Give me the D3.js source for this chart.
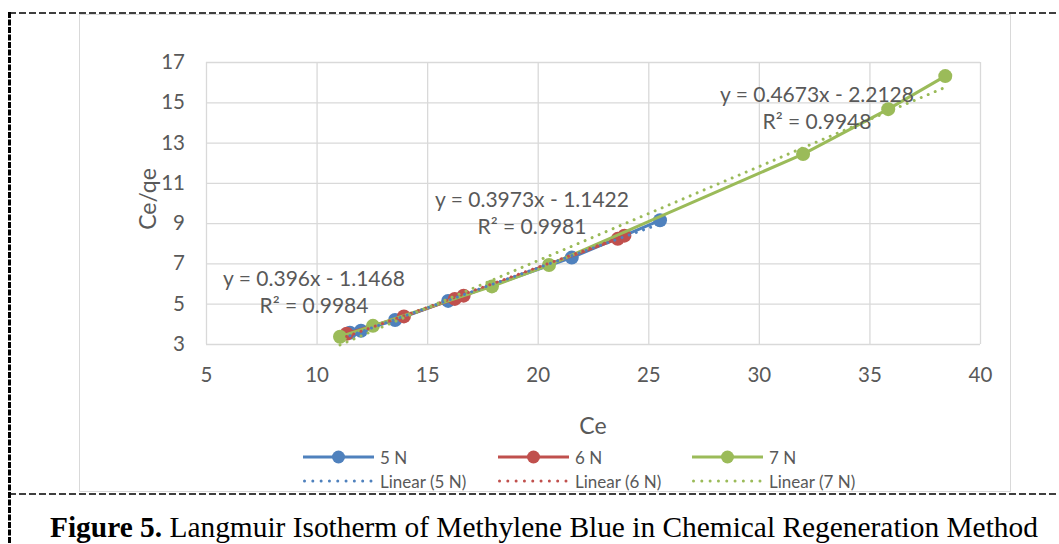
<!DOCTYPE html>
<html>
<head>
<meta charset="utf-8">
<script src="https://cdn.jsdelivr.net/npm/d3@7"></script>
<style>
  html, body { margin: 0; padding: 0; background: #ffffff; }
  svg { display: block; }
  text { font-family: Lato, "Open Sans", sans-serif; fill: #595959; }
</style>
</head>
<body>
<svg id="chart" width="1059" height="544"></svg>
<script>
// Langmuir isotherm data: Ce (mg/L) against Ce/qe, for three regenerant strengths
const seriesNames = ["5 N", "6 N", "7 N"];
const ce5 = [11.51, 12.01, 13.55, 15.95, 21.54, 25.53];
const ceqe5 = [3.56, 3.66, 4.19, 5.14, 7.29, 9.14];
const ce6 = [11.36, 13.95, 16.25, 16.65, 23.62, 23.92];
const ceqe6 = [3.51, 4.37, 5.24, 5.40, 8.22, 8.38];
const ce7 = [11.06, 12.55, 17.93, 20.51, 32.0, 35.85, 38.43];
const ceqe7 = [3.36, 3.90, 5.86, 6.92, 12.43, 14.66, 16.30];

// Linear trendline fits (slope, intercept, R²)
const slopes = [0.396, 0.3973, 0.4673];
const intercepts = [-1.1468, -1.1422, -2.2128];
const rSquared = ["0.9984", "0.9981", "0.9948"];
const equationText = ["y = 0.396x - 1.1468", "y = 0.3973x - 1.1422", "y = 0.4673x - 2.2128"];

const xTicks = [5, 10, 15, 20, 25, 30, 35, 40];
const yTicks = [3, 5, 7, 9, 11, 13, 15, 17];
const colors = ["#4F81BD", "#C0504D", "#9BBB59"];

const svg = d3.select("#chart");

// Outer dashed frame of the figure
const frame = svg.append("g").attr("fill", "none").attr("stroke", "#000");
frame.append("line").attr("x1", 9).attr("x2", 1059).attr("y1", 13).attr("y2", 13)
  .attr("stroke-width", 1.6).attr("stroke-dasharray", "7 3");
frame.append("line").attr("x1", 9).attr("x2", 1059).attr("y1", 494).attr("y2", 494)
  .attr("stroke-width", 1.6).attr("stroke-dasharray", "7 3");
frame.append("line").attr("x1", 9.5).attr("x2", 9.5).attr("y1", 12).attr("y2", 544)
  .attr("stroke-width", 3).attr("stroke-dasharray", "6 1.5");

// Chart area border
svg.append("rect").attr("x", 79.5).attr("y", 14.5).attr("width", 931).attr("height", 477)
  .attr("fill", "#fff").attr("stroke", "#d9d9d9").attr("stroke-width", 1);

const x = d3.scaleLinear().domain([5, 40]).range([206, 980]);
const y = d3.scaleLinear().domain([3, 17]).range([344, 62]);

// Gridlines and tick labels
const xAxis = svg.append("g").attr("transform", `translate(0,${y(3)})`)
  .call(d3.axisBottom(x).tickValues(xTicks).tickSize(-(y(3) - y(17))).tickPadding(23));
const yAxis = svg.append("g").attr("transform", `translate(${x(5)},0)`)
  .call(d3.axisLeft(y).tickValues(yTicks).tickSize(-(x(40) - x(5))).tickPadding(21));
[xAxis, yAxis].forEach(g => {
  g.select(".domain").remove();
  g.selectAll(".tick line").attr("stroke", "#d9d9d9").attr("stroke-width", 1.3);
  g.selectAll(".tick text").style("font-family", "Lato").style("font-size", "20.5px").attr("fill", "#595959");
});

// Axis titles
svg.append("text").attr("x", x(22.5)).attr("y", 425).attr("text-anchor", "middle")
  .attr("dominant-baseline", "central").style("font-size", "23px").text("Ce");
svg.append("text").attr("transform", `translate(147,${y(10.2)}) rotate(-90)`)
  .attr("text-anchor", "middle").attr("dominant-baseline", "central")
  .style("font-size", "23px").text("Ce/qe");

// Series lines with markers
const data = [
  ce5.map((v, i) => [v, ceqe5[i]]),
  ce6.map((v, i) => [v, ceqe6[i]]),
  ce7.map((v, i) => [v, ceqe7[i]])
];
const line = d3.line().x(d => x(d[0])).y(d => y(d[1]));
data.forEach((pts, s) => {
  const g = svg.append("g");
  g.append("path").datum(pts).attr("d", line).attr("fill", "none")
    .attr("stroke", colors[s]).attr("stroke-width", 3).attr("stroke-linejoin", "round");
  g.selectAll("circle").data(pts).join("circle")
    .attr("cx", d => x(d[0])).attr("cy", d => y(d[1])).attr("r", 7).attr("fill", colors[s]);
});

// Dotted linear trendlines spanning each series' Ce range
data.forEach((pts, s) => {
  const [x0, x1] = d3.extent(pts, d => d[0]);
  const ends = [x0, x1].map(v => [v, slopes[s] * v + intercepts[s]]);
  svg.append("path").datum(ends).attr("d", line).attr("fill", "none")
    .attr("stroke", colors[s]).attr("stroke-width", 3)
    .attr("stroke-linecap", "round").attr("stroke-dasharray", "0.01 7.6");
});

// Trendline equations
const eqPos = [[314, 277], [532, 198], [817, 93]];
equationText.forEach((t, s) => {
  const g = svg.append("g").attr("transform", `translate(${eqPos[s][0]},${eqPos[s][1]})`);
  g.append("text").attr("text-anchor", "middle").attr("dominant-baseline", "central")
    .style("font-size", "21px").text(t);
  g.append("text").attr("y", 27).attr("text-anchor", "middle").attr("dominant-baseline", "central")
    .style("font-size", "21px").text("R² = " + rSquared[s]);
});

// Legend
const legX = [303, 498, 692];
seriesNames.forEach((name, s) => {
  const g = svg.append("g").attr("transform", `translate(${legX[s]},0)`);
  g.append("line").attr("x1", 0).attr("x2", 71).attr("y1", 457).attr("y2", 457)
    .attr("stroke", colors[s]).attr("stroke-width", 3);
  g.append("circle").attr("cx", 35.5).attr("cy", 457).attr("r", 6.5).attr("fill", colors[s]);
  g.append("text").attr("x", 77).attr("y", 457).attr("dominant-baseline", "central")
    .style("font-size", "17px").text(name);
  g.append("line").attr("x1", 1.5).attr("x2", 68).attr("y1", 481).attr("y2", 481)
    .attr("stroke", colors[s]).attr("stroke-width", 3)
    .attr("stroke-linecap", "round").attr("stroke-dasharray", "0.01 8.3");
  g.append("text").attr("x", 77).attr("y", 481).attr("dominant-baseline", "central")
    .style("font-size", "17px").text(`Linear (${name})`);
});

// Figure caption
const cap = svg.append("text").attr("x", 50).attr("y", 537)
  .style("font-family", "'Liberation Serif', 'Times New Roman', serif")
  .style("font-size", "29.4px").attr("fill", "#000");
cap.append("tspan").style("font-weight", "bold").attr("fill", "#000").text("Figure 5.");
cap.append("tspan").attr("fill", "#000").text(" Langmuir Isotherm of Methylene Blue in Chemical Regeneration Method");
</script>
</body>
</html>
